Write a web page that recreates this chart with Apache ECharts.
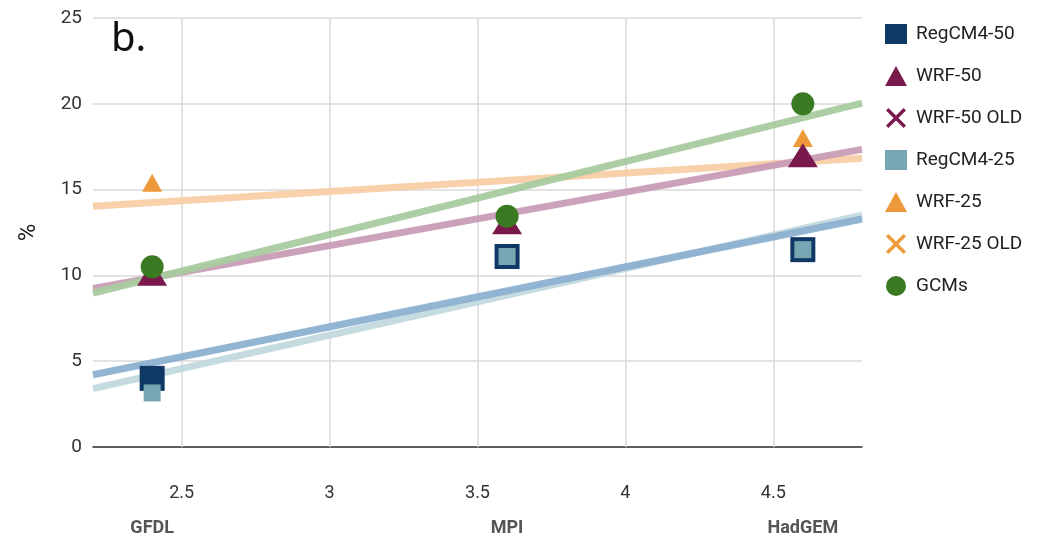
<!DOCTYPE html>
<html>
<head>
<meta charset="utf-8">
<script src="https://cdn.jsdelivr.net/npm/echarts@6/dist/echarts.min.js"></script>
<style>
html,body{margin:0;padding:0;background:#fff;}
#c{width:1049px;height:537px;}
</style>
</head>
<body>
<div id="c"></div>
<script>
// ---- data ----
const categories = ['GFDL', 'MPI', 'HadGEM'];
const categoryX = [2.4, 3.6, 4.6];
const regcm50 = [4.0, 11.1, 11.5];
const wrf50 = [10.1, 13.1, 17.0];
const wrf50old = [];
const regcm25 = [3.15, 11.1, 11.5];
const wrf25 = [15.4, 13.0, 18.0];
const wrf25old = [];
const gcms = [10.5, 13.45, 20.0];
const xTicks = [2.5, 3, 3.5, 4, 4.5];
const xRange = [2.2, 4.8];
const yTicks = [0, 5, 10, 15, 20, 25];

// ---- helpers ----
function pts(vals) { return vals.map((v, i) => [categoryX[i], v]); }
function trend(vals) {
  const n = vals.length;
  const mx = categoryX.reduce((a, b) => a + b, 0) / n;
  const my = vals.reduce((a, b) => a + b, 0) / n;
  let sxy = 0, sxx = 0;
  for (let i = 0; i < n; i++) { sxy += (categoryX[i] - mx) * (vals[i] - my); sxx += (categoryX[i] - mx) ** 2; }
  const k = sxy / sxx;
  return xRange.map(x => [x, my + k * (x - mx)]);
}
const X_ICON = 'path://M0,1.2L1.2,0L5,3.8L8.8,0L10,1.2L6.2,5L10,8.8L8.8,10L5,6.2L1.2,10L0,8.8L3.8,5Z';

const C = {
  regcm50: '#0f3864', wrf50: '#7a1a4c', regcm25: '#79a6b3', wrf25: '#ef9a3a', gcm: '#3a7a22'
};
const T = {
  regcm50: '#8cb1d1', wrf50: '#c89db6', regcm25: '#c2d9dd', wrf25: '#f8cfa6', gcm: '#a9cb9f'
};

function trendSeries(vals, color, z) {
  return { type: 'line', name: '_t', data: trend(vals), showSymbol: false, silent: true,
    lineStyle: { color: color, width: 7, opacity: 0.95 }, z: z, animation: false };
}
function sc(name, vals, symbol, size, color, z) {
  return { type: 'scatter', name: name, data: pts(vals), symbol: symbol, symbolSize: size,
    itemStyle: { color: color, opacity: 1 }, z: z };
}

const chart = echarts.init(document.getElementById('c'), null, { renderer: 'canvas' });
chart.setOption({
  animation: false,
  grid: { left: 93, right: 187, top: 18, bottom: 90 },
  textStyle: { fontFamily: 'Roboto' },
  xAxis: [{
    type: 'value', min: xRange[0], max: xRange[1],
    axisLine: { show: true, onZero: false, lineStyle: { color: '#333', width: 1.5 } },
    axisTick: { show: true, inside: true, length: 429, customValues: xTicks, lineStyle: { color: '#dadada', width: 1.5 } },
    axisLabel: { customValues: xTicks, margin: 37, fontSize: 18, color: '#333', fontFamily: 'Roboto' },
    splitLine: { show: false }
  }, {
    type: 'value', min: xRange[0], max: xRange[1], position: 'bottom', offset: 64,
    axisLine: { show: false }, axisTick: { show: false }, splitLine: { show: false },
    axisLabel: { customValues: categoryX, margin: 8, fontSize: 18, fontWeight: 'bold', color: '#555', fontFamily: 'Roboto',
      formatter: v => { const i = categoryX.findIndex(c => Math.abs(c - v) < 1e-6); return i >= 0 ? categories[i] : ''; } }
  }],
  yAxis: {
    type: 'value', min: yTicks[0], max: yTicks[yTicks.length - 1], interval: 5,
    name: '%', nameLocation: 'middle', nameRotate: 90, nameGap: 52,
    nameTextStyle: { fontSize: 24, color: '#222', fontFamily: 'Roboto' },
    axisLine: { show: false }, axisTick: { show: false },
    axisLabel: { margin: 11, fontSize: 19, color: '#333', fontFamily: 'Roboto' },
    splitLine: { lineStyle: { color: '#dadada', width: 1.5 } }
  },
  legend: {
    orient: 'vertical', left: 880, top: 19, itemGap: 22, itemWidth: 22, itemHeight: 20,
    textStyle: { fontSize: 19, color: '#222', fontFamily: 'Roboto', padding: [0, 0, 0, 4] },
    data: [
      { name: 'RegCM4-50', icon: 'rect' },
      { name: 'WRF-50', icon: 'triangle' },
      { name: 'WRF-50 OLD', icon: X_ICON },
      { name: 'RegCM4-25', icon: 'rect' },
      { name: 'WRF-25', icon: 'triangle' },
      { name: 'WRF-25 OLD', icon: X_ICON },
      { name: 'GCMs', icon: 'circle' }
    ]
  },
  graphic: [{
    type: 'text', left: 111, top: 20,
    style: { text: 'b.', font: '40px "Noto Sans"', fill: '#111' }
  }],
  series: [
    trendSeries(regcm25, T.regcm25, 1),
    trendSeries(regcm50, T.regcm50, 1),
    trendSeries(wrf25, T.wrf25, 1),
    trendSeries(wrf50, T.wrf50, 1),
    trendSeries(gcms, T.gcm, 1),
    sc('RegCM4-50', regcm50, 'rect', 25, C.regcm50, 3),
    sc('WRF-25', wrf25, 'triangle', [20, 18], C.wrf25, 3),
    sc('WRF-50', wrf50, 'triangle', [30, 24], C.wrf50, 4),
    sc('WRF-50 OLD', wrf50old, X_ICON, 18, C.wrf50, 4),
    sc('RegCM4-25', regcm25, 'rect', 17, C.regcm25, 5),
    sc('WRF-25 OLD', wrf25old, X_ICON, 18, C.wrf25, 5),
    sc('GCMs', gcms, 'circle', 23, C.gcm, 6)
  ]
});
</script>
</body>
</html>
